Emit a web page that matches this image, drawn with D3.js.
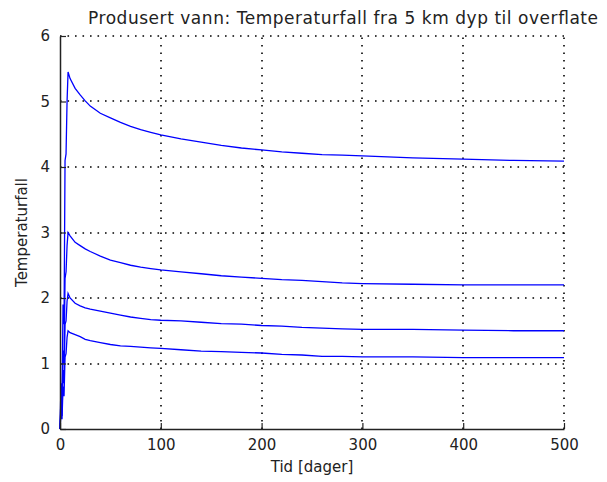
<!DOCTYPE html>
<html><head><meta charset="utf-8">
<script src="https://cdn.jsdelivr.net/npm/d3@7"></script>
<style>
html,body{margin:0;padding:0;background:#fff;}
svg{display:block;}
text{font-family:"DejaVu Sans",sans-serif;fill:#222;}
</style></head>
<body>
<script>
const title = "Produsert vann: Temperaturfall fra 5 km dyp til overflate";
const xLabel = "Tid [dager]";
const yLabel = "Temperaturfall";
const xTicks = [0,100,200,300,400,500];
const yTicks = [0,1,2,3,4,5,6];
const time = [0,1,2,3,4,5,6,7,8,10,15,20,25,30,40,50,60,70,80,90,100,120,140,160,180,200,220,240,260,280,300,350,400,450,500];
const series1 = [0,0.7,0.4,1.9,1.6,4.1,4.2,5.0,5.45,5.35,5.2,5.1,5.01,4.93,4.82,4.75,4.68,4.62,4.57,4.53,4.49,4.43,4.38,4.33,4.29,4.26,4.23,4.21,4.19,4.18,4.17,4.14,4.12,4.10,4.09];
const series2 = [0,0.5,0.3,1.2,1.0,2.3,2.4,2.8,3.0,2.95,2.85,2.8,2.75,2.71,2.64,2.58,2.54,2.5,2.47,2.45,2.43,2.4,2.37,2.34,2.32,2.3,2.28,2.27,2.25,2.23,2.22,2.21,2.2,2.2,2.2];
const series3 = [0,0.35,0.2,0.9,0.7,1.6,1.65,1.95,2.07,2.0,1.92,1.88,1.85,1.83,1.8,1.77,1.74,1.71,1.69,1.67,1.66,1.65,1.63,1.61,1.6,1.58,1.57,1.55,1.54,1.53,1.52,1.52,1.51,1.5,1.5];
const series4 = [0,0.25,0.15,0.65,0.5,1.1,1.15,1.4,1.5,1.47,1.44,1.41,1.37,1.35,1.32,1.29,1.27,1.26,1.25,1.24,1.23,1.21,1.19,1.18,1.17,1.16,1.14,1.13,1.11,1.11,1.1,1.1,1.09,1.09,1.09];
const allSeries = [series1, series2, series3, series4];

const W = 607, H = 482;
const m = {left:60, right:43, top:36, bottom:53};
const svg = d3.select("body").append("svg").attr("width", W).attr("height", H);
const x = d3.scaleLinear().domain([0,500]).range([m.left, W - m.right]);
const y = d3.scaleLinear().domain([0,6]).range([H - m.bottom, m.top]);

// grid
const g = svg.append("g").attr("class", "grid");
g.selectAll("line.vg").data(xTicks.slice(1)).enter().append("line").attr("class", "vg")
  .attr("x1", d => Math.round(x(d))).attr("x2", d => Math.round(x(d)))
  .attr("y1", y(0)).attr("y2", y(6))
  .attr("stroke", "#000").attr("stroke-width", 1.6).attr("stroke-dasharray", "1.6,5.9");
g.selectAll("line.hg").data(yTicks.slice(1)).enter().append("line").attr("class", "hg")
  .attr("y1", d => Math.round(y(d))).attr("y2", d => Math.round(y(d)))
  .attr("x1", x(0)).attr("x2", x(500))
  .attr("stroke", "#000").attr("stroke-width", 1.6).attr("stroke-dasharray", "1.6,5.9");

// lines
const line = d3.line().x((d,i) => x(time[i])).y(d => y(d));
svg.selectAll("path.series").data(allSeries).enter().append("path").attr("class", "series")
  .attr("d", line).attr("fill", "none").attr("stroke", "#0000ff").attr("stroke-width", 1.3);

// axes
const fmt = d3.format("d");
const xAxis = d3.axisBottom(x).tickValues(xTicks).tickFormat(fmt).tickSizeInner(-6).tickSizeOuter(0).tickPadding(10);
const yAxis = d3.axisLeft(y).tickValues(yTicks).tickFormat(fmt).tickSizeInner(-6).tickSizeOuter(0).tickPadding(10);
const gx = svg.append("g").attr("transform", `translate(0,${y(0)})`).call(xAxis);
const gy = svg.append("g").attr("transform", `translate(${x(0)},0)`).call(yAxis);
[gx, gy].forEach(a => {
  a.select(".domain").attr("stroke", "#222").attr("stroke-width", 1.5);
  a.selectAll(".tick line").attr("stroke", "#222").attr("stroke-width", 1.2);
  a.selectAll(".tick text").attr("font-size", 15).attr("fill", "#222").style("font-family", "DejaVu Sans, sans-serif");
});

svg.append("text").attr("x", 88).attr("y", 24).attr("font-size", 17)
  .attr("textLength", 510).text(title);
svg.append("text").attr("x", x(250)).attr("y", 472).attr("text-anchor", "middle").attr("font-size", 15).text(xLabel);
svg.append("text").attr("transform", `translate(27,${y(3)}) rotate(-90)`).attr("text-anchor", "middle").attr("font-size", 15).text(yLabel);
</script>
</body></html>
